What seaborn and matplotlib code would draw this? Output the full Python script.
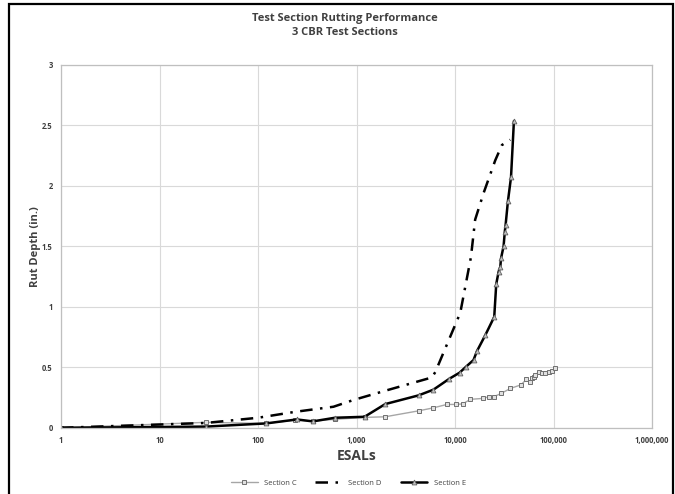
import matplotlib
matplotlib.use("Agg")
import matplotlib.pyplot as plt
import matplotlib.ticker as mticker
import matplotlib.patches as mpatches
import seaborn as sns
import numpy as np

# ---- data ----
c_esal = [1, 29.5, 120, 240, 360, 600, 1215, 1950, 4265, 6030, 8270, 10300, 12000,
          14300, 19200, 21900, 24600, 29400, 36400, 46700, 52900, 57100, 60400,
          62700, 65300, 70500, 76300, 82500, 89100, 96400, 104000]
c_rut = [0.0, 0.045, 0.036, 0.064, 0.055, 0.07, 0.086, 0.091, 0.14, 0.165, 0.193, 0.193, 0.198,
         0.235, 0.243, 0.256, 0.256, 0.284, 0.325, 0.355, 0.40, 0.38, 0.408,
         0.42, 0.435, 0.463, 0.45, 0.455, 0.46, 0.47, 0.49]

d_esal = [1, 29.5, 100, 238, 583, 933, 2030, 5820, 6300, 11300, 14500, 16000,
          19500, 25600, 29900, 36300]
d_rut = [0.0, 0.04, 0.083, 0.132, 0.174, 0.23, 0.31, 0.416, 0.46, 0.95, 1.41, 1.72,
         1.94, 2.21, 2.336, 2.38]

e_esal = [1, 29.5, 120, 248, 360, 603, 1205, 1955, 4265, 6030, 8740, 11100, 12900,
          15400, 16700, 20300, 25000, 26200, 27700, 28800, 29300, 31100, 32000,
          32600, 34400, 37000, 39600]
e_rut = [0.0, 0.01, 0.036, 0.069, 0.053, 0.083, 0.091, 0.196, 0.268, 0.315, 0.405, 0.455, 0.504,
         0.56, 0.634, 0.766, 0.917, 1.188, 1.29, 1.33, 1.40, 1.50, 1.62,
         1.675, 1.87, 2.07, 2.535]

x_ticks = [1, 10, 100, 1000, 10000, 100000, 1000000]
x_tick_labels = ["1", "10", "100", "1,000", "10,000", "100,000", "1,000,000"]
y_ticks = [0, 0.5, 1, 1.5, 2, 2.5, 3]
y_tick_labels = ["0", "0.5", "1", "1.5", "2", "2.5", "3"]

sns.set_style("white")
plt.rcParams['font.family'] = ['Open Sans', 'DejaVu Sans']

fig = plt.figure(figsize=(6.75, 4.94), dpi=100)
ax = fig.add_axes([0.0904, 0.134, 0.8756, 0.735])

sns.lineplot(x=c_esal, y=c_rut, ax=ax, sort=False, color="#a6a6a6", lw=1.0,
             marker="s", markersize=3.5, markerfacecolor="#e0e0e0",
             markeredgecolor="#707070", markeredgewidth=0.7, label="Section C")
sns.lineplot(x=d_esal, y=d_rut, ax=ax, sort=False, color="black", lw=1.8,
             linestyle=(0, (5, 3, 1, 3)), label="Section D")
sns.lineplot(x=e_esal, y=e_rut, ax=ax, sort=False, color="black", lw=1.8,
             marker="^", markersize=3.5, markerfacecolor="#c0c0c0",
             markeredgecolor="#606060", markeredgewidth=0.6, label="Section E")

ax.set_xscale("log")
ax.set_xlim(1, 1000000)
ax.set_ylim(0, 3)
ax.set_xticks(x_ticks)
ax.set_xticklabels(x_tick_labels)
ax.xaxis.set_minor_locator(mticker.NullLocator())
ax.set_yticks(y_ticks)
ax.set_yticklabels(y_tick_labels)
ax.tick_params(axis="both", labelsize=5.5, colors="#404040", length=0, pad=6)
for lab in ax.get_xticklabels() + ax.get_yticklabels():
    lab.set_fontweight("bold")
ax.grid(True, color="#d9d9d9", lw=0.8)
for s in ax.spines.values():
    s.set_color("#bfbfbf")
    s.set_linewidth(0.9)

ax.set_xlabel("ESALs", fontsize=10, fontweight="bold", color="#404040", labelpad=3)
ax.set_ylabel("Rut Depth (in.)", fontsize=8, fontweight="bold", color="#404040", labelpad=1)

fig.text(0.511, 0.963, "Test Section Rutting Performance", ha="center", va="center",
         fontsize=8, fontweight="bold", color="#404040")
fig.text(0.511, 0.935, "3 CBR Test Sections", ha="center", va="center",
         fontsize=8, fontweight="bold", color="#404040")

leg = ax.legend(loc="center", bbox_to_anchor=(0.486, -0.152), ncol=3, frameon=False,
                fontsize=5.5, handlelength=3.5, columnspacing=2.5)
for t in leg.get_texts():
    t.set_color("#404040")

# outer chart border
border = mpatches.Rectangle((9 / 675, -0.01), (673 - 9) / 675, 1 - 4 / 494 + 0.01,
                            transform=fig.transFigure, fill=False, edgecolor="black",
                            lw=1.6, clip_on=False)
fig.patches.append(border)

fig.savefig("out.png", dpi=100)
